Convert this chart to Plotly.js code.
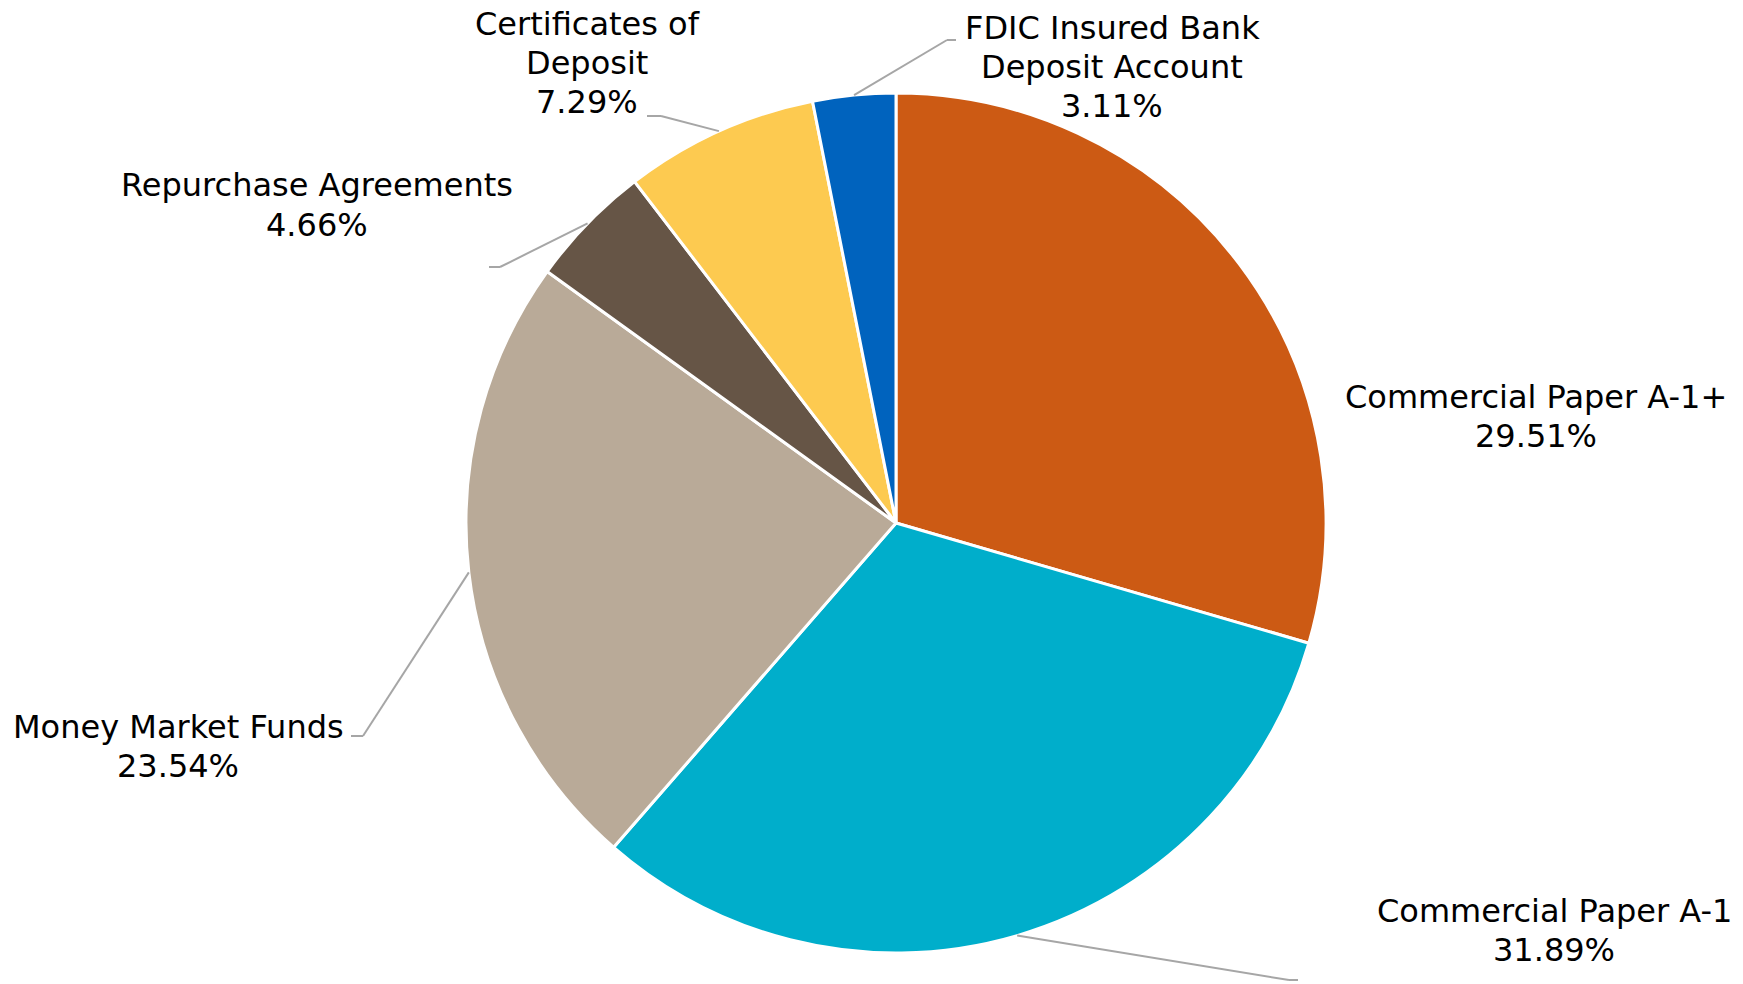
<!DOCTYPE html>
<html>
<head>
<meta charset="utf-8">
<script src="https://cdn.plot.ly/plotly-3.0.1.min.js"></script>
<style>
  html, body { margin: 0; padding: 0; background: #ffffff; }
  #chart { width: 1743px; height: 984px; }
</style>
</head>
<body>
<div id="chart"></div>
<script>
// ---- Data ----
const categories = [
  "Commercial Paper A-1+",
  "Commercial Paper A-1",
  "Money Market Funds",
  "Repurchase Agreements",
  "Certificates of Deposit",
  "FDIC Insured Bank Deposit Account"
];
const labelText = [
  "Commercial Paper A-1+",
  "Commercial Paper A-1",
  "Money Market Funds",
  "Repurchase Agreements",
  "Certificates of<br>Deposit",
  "FDIC Insured Bank<br>Deposit Account"
];
const values = [29.51, 31.89, 23.54, 4.66, 7.29, 3.11];
const colors = ["#CC5A14", "#00AECB", "#B9AA98", "#665546", "#FDCA50", "#0063BE"];

// ---- Layout geometry (pixels) ----
const W = 1743, H = 984;
const cx = 896, cy = 523, R = 430;
const lineGap = 39;
// label centre, leader elbow and leader end per slice (null = no leader)
const labelPos = [
  {tx: 1536, ty: 416, elbow: null, end: null},
  {tx: 1554, ty: 930, elbow: [1289, 980], end: [1298, 980]},
  {tx: 178,  ty: 746, elbow: [363, 736],  end: [351, 736]},
  {tx: 317,  ty: 205, elbow: [500, 267],  end: [489, 267]},
  {tx: 587,  ty: 63,  elbow: [661, 116],  end: [647, 116]},
  {tx: 1112, ty: 67,  elbow: [947, 40],   end: [956, 40]}
];

const px = x => x / W;
const py = y => 1 - y / H;

const total = values.reduce((a, b) => a + b, 0);
let cum = 0;
const annotations = [];
const shapes = [];
values.forEach((v, i) => {
  const mid = (cum + v / 2) / total * 2 * Math.PI;
  cum += v;
  const ex = cx + R * Math.sin(mid);
  const ey = cy - R * Math.cos(mid);
  const lp = labelPos[i];
  const lines = labelText[i].split("<br>").concat([v.toFixed(2) + "%"]);
  const n = lines.length;
  lines.forEach((t, k) => {
    annotations.push({
      xref: "paper", yref: "paper",
      x: px(lp.tx), y: py(lp.ty + (k - (n - 1) / 2) * lineGap),
      xanchor: "center", yanchor: "middle",
      showarrow: false, align: "center",
      text: t,
      font: {family: "DejaVu Sans, Verdana, sans-serif", size: 32, color: "#000000"}
    });
  });
  if (lp.elbow) {
    const lineStyle = {color: "#A6A6A6", width: 2};
    shapes.push({type: "line", xref: "paper", yref: "paper",
      x0: px(ex), y0: py(ey), x1: px(lp.elbow[0]), y1: py(lp.elbow[1]), line: lineStyle});
    shapes.push({type: "line", xref: "paper", yref: "paper",
      x0: px(lp.elbow[0]), y0: py(lp.elbow[1]), x1: px(lp.end[0]), y1: py(lp.end[1]), line: lineStyle});
  }
});

const trace = {
  type: "pie",
  labels: categories,
  values: values,
  sort: false,
  direction: "clockwise",
  rotation: 0,
  textinfo: "none",
  hoverinfo: "label+percent",
  marker: {colors: colors, line: {color: "#ffffff", width: 3}},
  domain: {
    x: [(cx - R) / W, (cx + R) / W],
    y: [(H - cy - R) / H, (H - cy + R) / H]
  }
};

const layout = {
  width: W, height: H,
  margin: {l: 0, r: 0, t: 0, b: 0},
  showlegend: false,
  paper_bgcolor: "#ffffff",
  plot_bgcolor: "#ffffff",
  annotations: annotations,
  shapes: shapes
};

Plotly.newPlot("chart", [trace], layout, {displayModeBar: false, staticPlot: true});
</script>
</body>
</html>
